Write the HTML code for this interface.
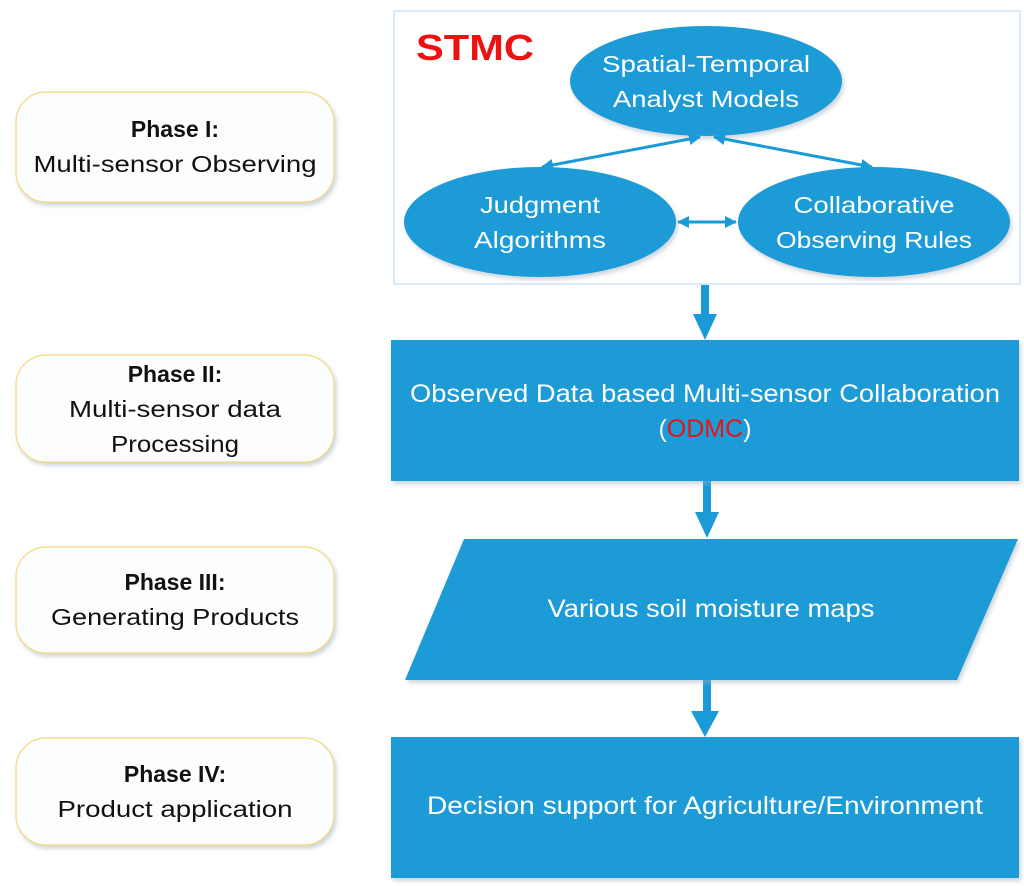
<!DOCTYPE html>
<html><head><meta charset="utf-8"><style>
html,body{margin:0;padding:0;background:#fff;}
svg{display:block;font-family:"Liberation Sans",sans-serif;}
</style></head><body>
<svg width="1024" height="886" viewBox="0 0 1024 886">
<defs>
<filter id="sh" x="-10%" y="-10%" width="130%" height="130%"><feDropShadow dx="2" dy="3" stdDeviation="2" flood-color="#9ab" flood-opacity="0.5"/></filter>
<marker id="ah" markerWidth="12" markerHeight="12" refX="11" refY="6" orient="auto-start-reverse" markerUnits="userSpaceOnUse" viewBox="0 0 12 12"><path d="M0,0 L12,6 L0,12 z" fill="#1a9bd7"/></marker>
</defs>
<g fill="#fbfdff" stroke="#f7d979" stroke-width="1.2" filter="url(#sh)">
<rect x="16" y="92" width="318" height="110" rx="30"/>
<rect x="16" y="355" width="318" height="107" rx="30"/>
<rect x="16" y="547" width="318" height="106" rx="30"/>
<rect x="16" y="738" width="318" height="107" rx="30"/>
</g>
<g font-size="23" text-anchor="middle" fill="#111">
<text x="175" y="137" font-weight="bold">Phase I:</text>
<text x="175" y="172" textLength="283" lengthAdjust="spacingAndGlyphs">Multi-sensor Observing</text>
<text x="175" y="382" font-weight="bold">Phase II:</text>
<text x="175" y="417" textLength="212" lengthAdjust="spacingAndGlyphs">Multi-sensor data</text>
<text x="175" y="452" textLength="128" lengthAdjust="spacingAndGlyphs">Processing</text>
<text x="175" y="590" font-weight="bold">Phase III:</text>
<text x="175" y="625" textLength="248" lengthAdjust="spacingAndGlyphs">Generating Products</text>
<text x="175" y="782" font-weight="bold">Phase IV:</text>
<text x="175" y="817" textLength="235" lengthAdjust="spacingAndGlyphs">Product application</text>
</g>
<rect x="394" y="11" width="626" height="273" fill="#fff" stroke="#cfe3f5" stroke-width="1.5"/>
<text x="416" y="60" font-size="36" font-weight="bold" fill="#ee1111" textLength="118" lengthAdjust="spacingAndGlyphs">STMC</text>
<g fill="#1a9bd7" filter="url(#sh)">
<ellipse cx="706" cy="81" rx="136" ry="55"/>
<ellipse cx="540" cy="222" rx="136" ry="55"/>
<ellipse cx="874" cy="222" rx="136" ry="55"/>
</g>
<g stroke="#1a9bd7" stroke-width="3" fill="none" marker-start="url(#ah)" marker-end="url(#ah)">
<line x1="700" y1="137" x2="542" y2="167"/>
<line x1="714" y1="137" x2="872" y2="167"/>
<line x1="678" y1="222" x2="736" y2="222"/>
</g>
<g font-size="23" text-anchor="middle" fill="#fff">
<text x="706" y="72" textLength="208" lengthAdjust="spacingAndGlyphs">Spatial-Temporal</text>
<text x="706" y="107" textLength="186" lengthAdjust="spacingAndGlyphs">Analyst Models</text>
<text x="540" y="213" textLength="120" lengthAdjust="spacingAndGlyphs">Judgment</text>
<text x="540" y="248" textLength="132" lengthAdjust="spacingAndGlyphs">Algorithms</text>
<text x="874" y="213" textLength="161" lengthAdjust="spacingAndGlyphs">Collaborative</text>
<text x="874" y="248" textLength="196" lengthAdjust="spacingAndGlyphs">Observing Rules</text>
</g>
<g fill="#1a9bd7">
<rect x="701" y="285" width="8" height="30"/><path d="M693,314 L717,314 L705,340 z"/>
<rect x="703" y="481" width="8" height="32"/><path d="M695,512 L719,512 L707,538 z"/>
<rect x="703" y="680" width="8" height="32"/><path d="M691,711 L719,711 L705,737 z"/>
</g>
<g fill="#1a9bd7" filter="url(#sh)">
<rect x="391" y="340" width="628" height="141"/>
<path d="M464,539 L1018,539 L957,680 L405,680 z"/>
<rect x="391" y="737" width="628" height="141"/>
</g>
<g font-size="25" text-anchor="middle" fill="#fff">
<text x="705" y="402" textLength="590" lengthAdjust="spacingAndGlyphs">Observed Data based Multi-sensor Collaboration</text>
<text x="705" y="437">(<tspan fill="#ee1111">ODMC</tspan>)</text>
<text x="711" y="617" textLength="327" lengthAdjust="spacingAndGlyphs">Various soil moisture maps</text>
<text x="705" y="814" textLength="556" lengthAdjust="spacingAndGlyphs">Decision support for Agriculture/Environment</text>
</g>
</svg>
</body></html>
